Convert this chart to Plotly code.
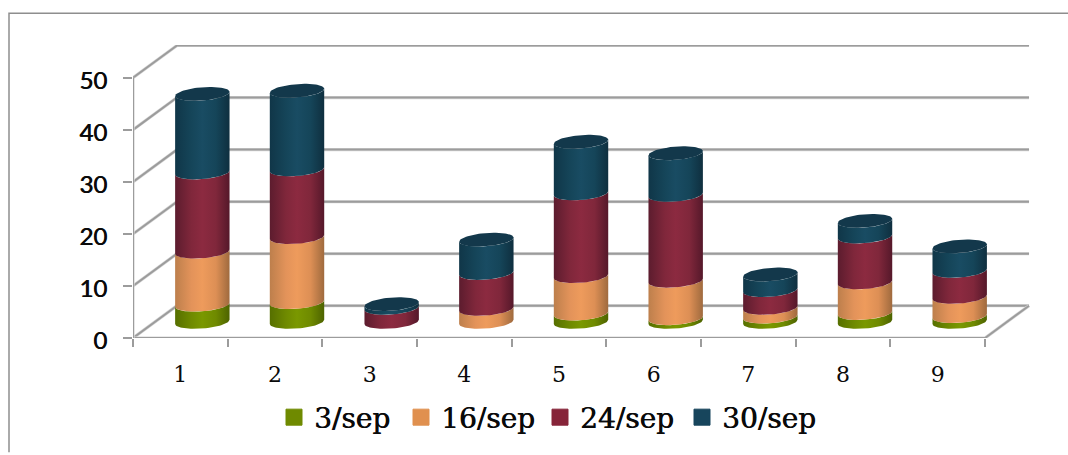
import numpy as np
import plotly.graph_objects as go

# Stacked cylinder chart drawn in an oblique projection on cartesian axes.
categories = ["1", "2", "3", "4", "5", "6", "7", "8", "9"]
series_names = ["3/sep", "16/sep", "24/sep", "30/sep"]
sep_03 = [3.3, 3.8, 0, 0, 1.6, 0.7, 1.0, 1.7, 1.1]
sep_16 = [10.2, 12.5, 0, 2.5, 7.2, 7.2, 1.7, 5.9, 3.7]
sep_24 = [15.2, 13.0, 2.7, 6.9, 15.9, 16.5, 3.4, 8.8, 5.0]
sep_30 = [15.1, 15.1, 0.7, 6.4, 9.9, 8.0, 3.0, 3.0, 4.7]
series_values = [sep_03, sep_16, sep_24, sep_30]
value_ticks = [0, 10, 20, 30, 40, 50]

# side shading of each cylinder, edge to centre to edge
shades = [
    [[0, "#566f00"], [0.3, "#6f8a00"], [0.5, "#7a9800"], [0.75, "#6f8a00"], [1, "#4d6300"]],
    [[0, "#bd7f4c"], [0.3, "#e3935a"], [0.5, "#ee9b5c"], [0.75, "#dd8f55"], [1, "#9f6a3e"]],
    [[0, "#5c1c2e"], [0.3, "#80273b"], [0.5, "#8c2a40"], [0.75, "#80273b"], [1, "#55182a"]],
    [[0, "#103648"], [0.3, "#154559"], [0.5, "#194c63"], [0.75, "#154559"], [1, "#0f2f3f"]],
]
swatch_colors = ["#6f8a00", "#e0904f", "#862439", "#17455c"]
cap_color = "#13384b"
grid_color = "#9c9c9c"
grid_halo = "#d6d6d6"
text_color = "#0a0a0a"

# page geometry in pixels
WIDTH, HEIGHT = 1068, 455
LEFT, RIGHT, BOTTOM, TOP = 133, 1030, 340, 45
PX_X = 94.67   # pixels per category
PX_Y = 5.24    # pixels per value unit

# oblique depth of the chart box, and half of it for the cylinder axis
DEPTH_X = 44 / PX_X
DEPTH_Y = 32.5 / PX_Y
x_lo = 0.5
x_hi = 9.5
n_cat = len(categories)

# ellipse of a cylinder section: across vector (A, 0), depth vector (B, C)
A = 26 / PX_X
B = 8 / PX_X
C = 7 / PX_Y
T0 = np.arctan2(B, A)


def ring(cx, cy, t):
    return cx + A * np.cos(t) + B * np.sin(t), cy + C * np.sin(t)


def front_arc(cx, cy):
    return ring(cx, cy, np.linspace(T0 + np.pi, T0 + 2 * np.pi, 40))


fig = go.Figure()


def add_line(xs, ys):
    for width, color in ((3.2, grid_halo), (2, grid_color)):
        fig.add_trace(go.Scatter(x=xs, y=ys, mode="lines", showlegend=False, hoverinfo="skip",
                                 cliponaxis=False, line=dict(color=color, width=width)))


# wall gridlines, floor edges and the vertical axis
for v in value_ticks:
    add_line([x_lo, x_lo + DEPTH_X, x_hi + DEPTH_X], [v, v + DEPTH_Y, v + DEPTH_Y])
add_line([x_lo, x_hi, x_hi + DEPTH_X], [0, 0, DEPTH_Y])
add_line([x_lo, x_lo], [0, value_ticks[-1]])

# cylinders, lowest section first so each one overlaps the arc beneath it
for i in range(n_cat):
    cx = i + 1 + DEPTH_X / 2
    base = DEPTH_Y / 2
    level = 0.0
    for values, shade in zip(series_values, shades):
        v = values[i]
        if v <= 0:
            continue
        xa, ya = front_arc(cx, base + level)
        level += v
        xb, yb = front_arc(cx, base + level)
        fig.add_trace(go.Scatter(
            x=np.r_[xa, xb[::-1], xa[0]], y=np.r_[ya, yb[::-1], ya[0]],
            mode="lines", fill="toself", line=dict(width=0, color="rgba(0,0,0,0)"),
            fillgradient=dict(type="horizontal", colorscale=shade),
            showlegend=False, hoverinfo="skip", cliponaxis=False,
        ))
    xc, yc = ring(cx, base + level, np.linspace(0, 2 * np.pi, 80))
    fig.add_trace(go.Scatter(x=xc, y=yc, mode="lines", fill="toself", fillcolor=cap_color,
                             line=dict(width=0, color=cap_color), showlegend=False,
                             hoverinfo="skip", cliponaxis=False))

# one legend per series so each entry sits at its own position
legend_left = [274, 401, 540, 682]
plot_w = RIGHT - LEFT
legend_layout = {}
for k, (name, color) in enumerate(zip(series_names, swatch_colors)):
    key = "legend" if k == 0 else f"legend{k + 1}"
    fig.add_trace(go.Scatter(x=[None], y=[None], mode="markers", name=name, legend=key,
                             marker=dict(symbol="square", size=16, color=color,
                                         line=dict(width=1, color=color))))
    legend_layout[key] = dict(
        x=(legend_left[k] - LEFT) / plot_w, xanchor="left",
        y=-(420 - BOTTOM) / (BOTTOM - TOP), yanchor="middle",
        bgcolor="rgba(0,0,0,0)", borderwidth=0, itemwidth=30,
        font=dict(family="DejaVu Serif", size=28, color=text_color,
                  shadow=f"0.6px 0 0 {text_color}"),
    )

fig.update_layout(
    width=WIDTH, height=HEIGHT,
    margin=dict(l=LEFT, r=WIDTH - RIGHT, t=TOP, b=HEIGHT - BOTTOM, pad=0),
    paper_bgcolor="white", plot_bgcolor="white",
    xaxis=dict(
        range=[x_lo, x_lo + plot_w / PX_X], tickmode="array",
        tickvals=list(range(1, n_cat + 1)), ticktext=categories, ticks="",
        ticklabelstandoff=21, showgrid=False, zeroline=False, showline=False,
        tickfont=dict(family="DejaVu Serif", size=22, color=text_color),
        minor=dict(tickmode="array", tickvals=[x_lo + j for j in range(n_cat + 1)],
                   ticks="outside", ticklen=8, tickwidth=2, tickcolor=grid_color, showgrid=False),
    ),
    yaxis=dict(
        range=[0, (BOTTOM - TOP) / PX_Y], tickmode="array", tickvals=value_ticks,
        ticks="outside", ticklen=9, tickwidth=2, tickcolor=grid_color,
        ticklabelstandoff=11, ticklabelshift=3, showgrid=False, zeroline=False, showline=False,
        tickfont=dict(family="Lato", size=24, color=text_color,
                      shadow=f"0.6px 0 0 {text_color}"),
    ),
    # outer frame of the chart area
    shapes=[dict(type="path", xref="paper", yref="paper", layer="below",
                 path=f"M {(9 - LEFT) / plot_w} {-(HEIGHT - BOTTOM) / (BOTTOM - TOP)} "
                      f"L {(9 - LEFT) / plot_w} {(BOTTOM - 13) / (BOTTOM - TOP)} "
                      f"L {(WIDTH - LEFT) / plot_w} {(BOTTOM - 13) / (BOTTOM - TOP)}",
                 line=dict(color="#8e8e8e", width=1.5))],
    **legend_layout,
)

fig.write_html("out.html")
